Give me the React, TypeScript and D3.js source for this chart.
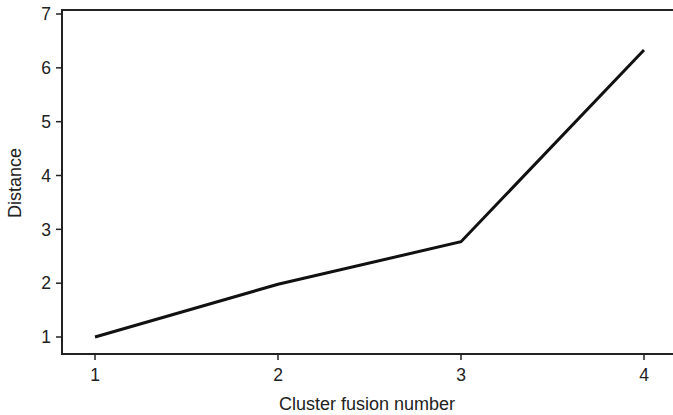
import React from "react";
import * as d3 from "d3";

const fusionNumbers = [1, 2, 3, 4];
const distances = [1.0, 1.98, 2.77, 6.33];
const yTicks = [1, 2, 3, 4, 5, 6, 7];
const xTicks = [1, 2, 3, 4];

export default function App() {
  const W = 673, H = 415;
  const left = 62, right = 673, top = 10, bottom = 354;
  const x = d3.scaleLinear().domain([1, 4]).range([95, 644]);
  const y = d3.scaleLinear().domain([1, 7]).range([337, 14]);
  const line = d3.line<number>().x((_, i) => x(fusionNumbers[i])).y((d) => y(d));
  const font = "Liberation Sans, Arial, sans-serif";
  return (
    <svg width={W} height={H} style={{ position: "absolute", left: 0, top: 0, background: "#fff" }}>
      <path d={`M${right},${top}H${left}V${bottom}H${right}`} fill="none" stroke="#222" strokeWidth={2} />
      {yTicks.map((t) => (
        <g key={t}>
          <line x1={left - 6} x2={left} y1={y(t)} y2={y(t)} stroke="#222" strokeWidth={1.5} />
          <text x={left - 11} y={y(t)} dy="0.36em" textAnchor="end" fontSize={17.5} fontFamily={font} fill="#222">{t}</text>
        </g>
      ))}
      {xTicks.map((t) => (
        <g key={t}>
          <line x1={x(t)} x2={x(t)} y1={bottom} y2={bottom + 6} stroke="#222" strokeWidth={1.5} />
          <text x={x(t)} y={bottom + 27} textAnchor="middle" fontSize={17.5} fontFamily={font} fill="#222">{t}</text>
        </g>
      ))}
      <path d={line(distances) || ""} fill="none" stroke="#111" strokeWidth={3} strokeLinejoin="miter" />
      <text x={367} y={410} textAnchor="middle" fontSize={18} fontFamily={font} fill="#222">Cluster fusion number</text>
      <text transform={`translate(21,${(top + bottom) / 2 + 1}) rotate(-90)`} textAnchor="middle" fontSize={18} fontFamily={font} fill="#222">Distance</text>
    </svg>
  );
}
